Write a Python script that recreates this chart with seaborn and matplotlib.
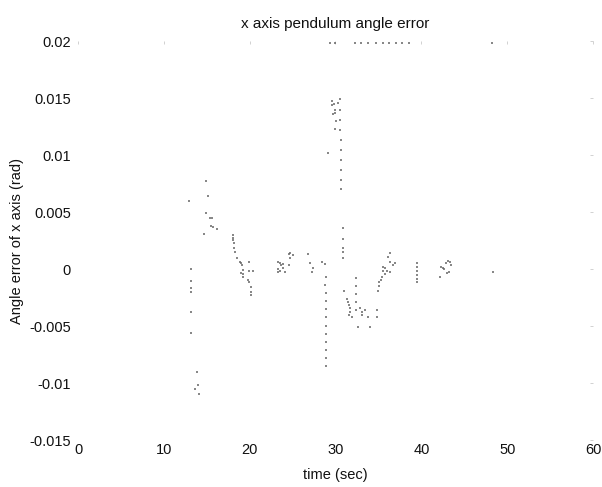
import numpy as np
import pandas as pd
import seaborn as sns
import matplotlib.pyplot as plt

# Sample points (time in sec, error in rad)
t_early = [12.93, 14.91, 15.15, 14.91, 15.38, 15.61, 15.50, 15.73, 16.20, 14.68,
           13.17, 13.17, 13.17, 13.17, 13.17, 13.17,
           13.86, 13.98, 13.63, 14.10]
e_early = [0.0060, 0.00776, 0.00642, 0.00492, 0.00448, 0.00448, 0.00378, 0.00369, 0.00352, 0.00308,
           0.0, -0.00105, -0.00167, -0.00202, -0.00378, -0.00563,
           -0.00905, -0.01020, -0.01055, -0.01099]

t_drop = [18.06, 18.06, 18.06, 18.18, 18.18, 18.29, 18.52, 18.87, 18.99, 19.00, 19.11,
          19.22, 19.22, 19.22, 19.92, 19.92, 20.39, 19.81, 19.92, 20.16, 20.16, 20.16]
e_drop = [0.00299, 0.00272, 0.00255, 0.00229, 0.00185, 0.00149, 0.00097, 0.00062, 0.00053, -0.0003, 0.00035,
          -0.00009, -0.00044, -0.00070, 0.00062, -0.00018, -0.00018, -0.00097, -0.00114, -0.00158, -0.00202, -0.00229]

t_mid = [23.30, 23.30, 23.30, 23.53, 23.53, 23.65, 23.88, 23.88, 24.12,
         24.58, 24.70, 25.05, 24.58, 24.70,
         26.80, 27.03, 27.38, 27.26]
e_mid = [0.00062, 0.0, -0.00026, 0.00053, -0.00018, 0.00035, 0.00044, 0.00009, -0.00026,
         0.00132, 0.00141, 0.00123, 0.00035, 0.00097,
         0.00132, 0.00053, 0.00009, -0.00026]

t_spike = [28.43, 28.78, 28.89, 28.78,
           28.89, 28.89, 28.89, 28.89, 28.89, 28.89, 28.89, 28.89, 28.89, 28.89,
           29.60, 29.80, 29.90, 30.00, 29.70, 30.10, 29.59, 30.30, 29.94, 29.13,
           30.53, 30.53, 30.53, 30.53, 30.60, 30.60, 30.65, 30.65, 30.65, 30.65,
           30.88, 30.88, 30.88, 30.88, 30.88]
e_spike = [0.00062, 0.00044, -0.00070, -0.00141,
           -0.0021, -0.0028, -0.0035, -0.0042, -0.0050, -0.0057, -0.0064, -0.0071, -0.0078, -0.0085,
           0.0148, 0.0145, 0.0140, 0.0137, 0.0136, 0.0130, 0.0144, 0.0146, 0.01231, 0.0102,
           0.0149, 0.0140, 0.0131, 0.0122, 0.0113, 0.0105, 0.0096, 0.0087, 0.0078, 0.0070,
           0.0036, 0.00264, 0.00185, 0.00149, 0.00097]

t_dip = [30.99, 31.34, 31.45, 31.57, 31.69, 31.69, 31.92, 31.57,
         32.39, 32.39, 32.39, 32.39, 32.39,
         32.86, 33.09, 33.44, 33.79, 33.09, 32.62, 34.02, 34.84, 34.84,
         34.95, 35.07, 35.07, 35.30, 35.42, 35.54, 35.54, 35.77, 35.77,
         36.12, 36.35, 36.35, 36.70, 36.35, 36.93, 36.00]
e_dip = [-0.00193, -0.00264, -0.00290, -0.00316, -0.00343, -0.00378, -0.00422, -0.00400,
         -0.00079, -0.00150, -0.00220, -0.00290, -0.00360,
         -0.00343, -0.00378, -0.00360, -0.00422, -0.00400, -0.00510, -0.00510, -0.00360, -0.00422,
         -0.00193, -0.00150, -0.00114, -0.00097, -0.00070, -0.00018, 0.00018, 0.00009, -0.00040,
         0.00105, 0.00140, 0.00062, 0.00035, -0.00026, 0.00053, -0.0002]

t_late = [39.50, 39.50, 39.50, 39.50, 39.50, 39.50,
          42.3, 42.5, 42.7, 42.9, 43.1, 43.3, 43.0, 43.2, 42.2, 43.4, 48.35]
e_late = [0.00053, 0.00018, -0.00018, -0.00053, -0.00088, -0.00114,
          0.00018, 0.00009, 0.0, 0.00053, 0.00070, 0.00062, -0.00035, -0.00026, -0.00070, 0.00035, -0.00026]

# points sitting on the upper limit
t_top = [29.4, 29.9, 32.3, 33.0, 33.8, 34.7, 35.5, 36.2, 37.0, 37.8, 38.6, 48.2]
e_top = [0.0199] * len(t_top)

df = pd.DataFrame({
    'time': t_early + t_drop + t_mid + t_spike + t_dip + t_late + t_top,
    'err': e_early + e_drop + e_mid + e_spike + e_dip + e_late + e_top,
})

sns.set_style('white')
plt.rcParams['font.family'] = ['Liberation Sans', 'DejaVu Sans']

fig = plt.figure(figsize=(6.02, 4.87), dpi=100)
ax = fig.add_axes([0.1296, 0.0965, 0.8554, 0.8185])

sns.scatterplot(data=df, x='time', y='err', ax=ax, color='#606060', s=3,
                marker='s', linewidth=0, alpha=0.75)

ax.set_xlim(0, 60)
ax.set_ylim(-0.015, 0.02)
ax.set_xticks([0, 10, 20, 30, 40, 50, 60])
ax.set_yticks([-0.015, -0.01, -0.005, 0, 0.005, 0.01, 0.015, 0.02])
ax.set_yticklabels(['-0.015', '-0.01', '-0.005', '0', '0.005', '0.01', '0.015', '0.02'])
for s in ax.spines.values():
    s.set_visible(False)
ax.tick_params(axis='both', direction='in', length=2, width=0.5, color='0.75',
               labelsize=10.5, labelcolor='#111111', top=True, right=True)
ax.tick_params(axis='y', pad=5)
ax.tick_params(axis='x', pad=2)

ax.set_title('x axis pendulum angle error', fontsize=11, color='#111111', pad=10)
ax.set_xlabel('time (sec)', fontsize=10.5, color='#111111', labelpad=8)
ax.set_ylabel('Angle error of x axis (rad)', fontsize=10.5, color='#111111', labelpad=4)

fig.savefig('out.png', dpi=100)
